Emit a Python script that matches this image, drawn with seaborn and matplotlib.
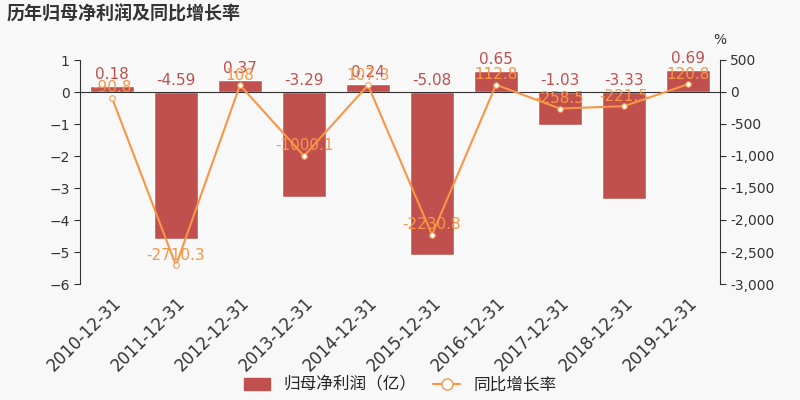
import matplotlib
matplotlib.use("Agg")
import matplotlib.pyplot as plt
import seaborn as sns
import pandas as pd

dates = ["2010-12-31","2011-12-31","2012-12-31","2013-12-31","2014-12-31",
         "2015-12-31","2016-12-31","2017-12-31","2018-12-31","2019-12-31"]
profit = [0.18,-4.59,0.37,-3.29,0.24,-5.08,0.65,-1.03,-3.33,0.69]
growth = [-90.8,-2710.3,108,-1000.1,107.3,-2230.8,112.8,-258.5,-221.5,120.8]
growth_lbl = ["-90.8","-2710.3","108","-1000.1","107.3","-2230.8","112.8","-258.5","-221.5","120.8"]

sns.set_style("white")
plt.rcParams['font.family'] = ['DejaVu Sans', 'Noto Sans CJK SC']
bg = "#f8f8f8"
fig = plt.figure(figsize=(8, 4), dpi=100, facecolor=bg)
ax = fig.add_axes([0.1, 0.29, 0.8, 0.56], facecolor=bg)
df = pd.DataFrame({"d": dates, "p": profit, "g": growth})
sns.barplot(data=df, x="d", y="p", color="#c0504d", saturation=1, width=0.7, ax=ax)
ax.set_ylim(-6, 1)
ax.set_yticks(range(-6, 2))
ax.set_xlabel(""); ax.set_ylabel("")
for i, v in enumerate(profit):
    ax.text(i, max(v, 0) + 0.12 if v >= 0 else 0.12, f"{v:.2f}", ha="center", va="bottom",
            color="#c0504d", fontsize=11)
ax.axhline(0, color="#333", lw=0.8)
for s in ["top", "right"]:
    ax.spines[s].set_visible(False)
ax.spines["left"].set_color("#333"); ax.spines["bottom"].set_visible(False)
ax.tick_params(axis="x", rotation=45, labelsize=12, colors="#333")
plt.setp(ax.get_xticklabels(), ha="right", rotation_mode="anchor")
ax.tick_params(axis="y", labelsize=10, colors="#333", left=True, length=4)

ax2 = ax.twinx()
sns.lineplot(x=list(range(10)), y=growth, ax=ax2, color="#f79646", lw=1.5,
             marker="o", markersize=4, markerfacecolor="white", markeredgecolor="#f79646")
ax2.set_ylim(-3000, 500)
ax2.set_yticks(range(-3000, 501, 500))
ax2.set_yticklabels([f"{t:,}" for t in range(-3000, 501, 500)])
ax2.tick_params(axis="y", labelsize=10, colors="#333", right=True, length=4)
for s in ["top", "left", "bottom"]:
    ax2.spines[s].set_visible(False)
ax2.spines["right"].set_color("#333")
for i, (v, l) in enumerate(zip(growth, growth_lbl)):
    ax2.text(i, v + 40, l, ha="center", va="bottom", color="#f79646", fontsize=11)
ax2.text(1.0, 1.07, "%", transform=ax2.transAxes, fontsize=10, color="#333", ha="center")
ax.set_xlim(-0.5, 9.5)

fig.text(0.008, 0.965, "历年归母净利润及同比增长率", fontsize=13, fontweight="bold", color="#333", va="center",
         family=['Noto Sans CJK SC', 'DejaVu Sans'])
from matplotlib.patches import Patch
from matplotlib.lines import Line2D
h = [Patch(color="#c0504d"), Line2D([], [], color="#f79646", marker="o", markerfacecolor="white", markersize=8)]
fig.legend(h, ["归母净利润（亿）", "同比增长率"], loc="center", bbox_to_anchor=(0.5, 0.037),
           ncol=2, frameon=False, fontsize=12, handlelength=1.6, columnspacing=1,
           prop={'family': ['Noto Sans CJK SC', 'DejaVu Sans'], 'size': 12})
fig.savefig("out.png", dpi=100, facecolor=bg)
